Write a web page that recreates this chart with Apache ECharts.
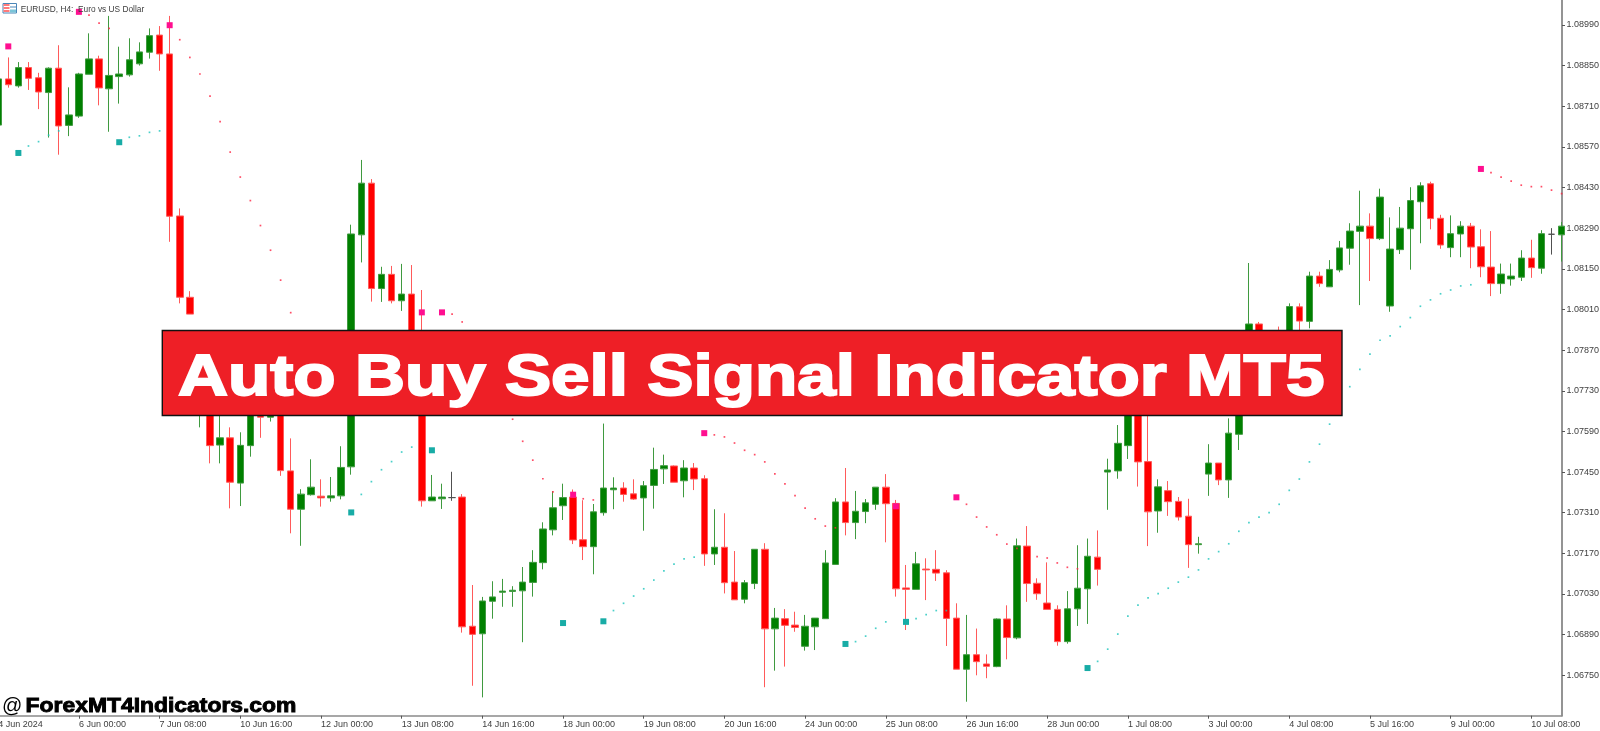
<!DOCTYPE html>
<html><head><meta charset="utf-8">
<style>html,body{margin:0;padding:0;background:#fff;overflow:hidden}#c{width:1600px;height:731px}</style>
<script src="https://cdn.jsdelivr.net/npm/echarts@6/dist/echarts.min.js"></script>
</head><body><div id="c"></div>
<script>
const opens=[1.08645,1.08804,1.08780,1.08843,1.08808,1.08757,1.08841,1.08644,1.08676,1.08820,
1.08873,1.08770,1.08812,1.08818,1.08856,1.08896,1.08955,1.08890,1.08332,1.08052,
1.07698,1.07698,1.07543,1.07568,1.07412,1.07541,1.07681,1.07639,1.07681,1.07454,
1.07322,1.07372,1.07367,1.07361,1.07368,1.07468,1.08267,1.08445,1.08082,1.08131,
1.08040,1.08063,1.07836,1.07351,1.07358,1.07362,1.07364,1.06919,1.06893,1.07005,
1.07036,1.07039,1.07041,1.07070,1.07138,1.07251,1.07334,1.07364,1.07217,1.07193,
1.07310,1.07389,1.07395,1.07375,1.07361,1.07404,1.07461,1.07471,1.07420,1.07464,
1.07427,1.07168,1.07191,1.07071,1.07012,1.07066,1.07184,1.06910,1.06945,1.06923,
1.06850,1.06917,1.06945,1.07132,1.07347,1.07276,1.07314,1.07339,1.07398,1.07342,
1.07051,1.07046,1.07116,1.07115,1.07103,1.06947,1.06771,1.06821,1.06789,1.06780,
1.06944,1.06879,1.07195,1.07067,1.06999,1.06977,1.06866,1.06979,1.07048,1.07157,
1.07450,1.07454,1.07541,1.07700,1.07486,1.07316,1.07386,1.07349,1.07298,1.07200,
1.07443,1.07481,1.07423,1.07580,1.07733,1.07960,1.07853,1.07905,1.07853,1.08019,
1.07969,1.08125,1.08088,1.08146,1.08221,1.08279,1.08297,1.08254,1.08022,1.08216,
1.08288,1.08381,1.08443,1.08324,1.08223,1.08270,1.08297,1.08226,1.08156,1.08099,
1.08115,1.08121,1.08187,1.08152,1.08269,1.08267];
const closes=[1.08804,1.08784,1.08843,1.08806,1.08759,1.08841,1.08642,1.08680,1.08821,1.08873,
1.08773,1.08816,1.08821,1.08870,1.08897,1.08953,1.08890,1.08331,1.08052,1.07994,
1.07870,1.07541,1.07568,1.07415,1.07542,1.07681,1.07639,1.07681,1.07455,1.07322,
1.07374,1.07398,1.07361,1.07368,1.07466,1.08270,1.08445,1.08082,1.08131,1.08040,
1.08063,1.07836,1.07351,1.07364,1.07364,1.07362,1.06917,1.06891,1.07006,1.07020,
1.07040,1.07043,1.07071,1.07139,1.07254,1.07327,1.07362,1.07216,1.07193,1.07313,
1.07395,1.07395,1.07373,1.07357,1.07403,1.07459,1.07472,1.07415,1.07464,1.07426,
1.07168,1.07191,1.07069,1.07010,1.07069,1.07184,1.06910,1.06947,1.06922,1.06915,
1.06919,1.06947,1.07137,1.07347,1.07276,1.07315,1.07344,1.07398,1.07341,1.07048,
1.07046,1.07134,1.07113,1.07102,1.06946,1.06771,1.06821,1.06797,1.06781,1.06944,
1.06880,1.07196,1.07066,1.07031,1.06977,1.06866,1.06979,1.07050,1.07160,1.07115,
1.07457,1.07549,1.07698,1.07485,1.07313,1.07399,1.07348,1.07295,1.07200,1.07203,
1.07481,1.07423,1.07584,1.07733,1.07960,1.07888,1.07922,1.07853,1.08020,1.07970,
1.08125,1.08099,1.08148,1.08222,1.08280,1.08297,1.08254,1.08397,1.08218,1.08290,
1.08385,1.08436,1.08323,1.08232,1.08271,1.08297,1.08225,1.08157,1.08099,1.08132,
1.08125,1.08187,1.08154,1.08271,1.08269,1.08297];
const highs=[1.08804,1.08878,1.08862,1.08862,1.08825,1.08844,1.08920,1.08775,1.08825,1.08961,
1.08884,1.09021,1.08915,1.08944,1.08930,1.08978,1.08986,1.09021,1.08358,1.08073,
1.07922,1.07767,1.07698,1.07604,1.07587,1.07715,1.07715,1.07700,1.07700,1.07566,
1.07391,1.07494,1.07425,1.07433,1.07539,1.08302,1.08525,1.08459,1.08157,1.08160,
1.08167,1.08163,1.08077,1.07440,1.07410,1.07451,1.07374,1.07061,1.07020,1.07074,
1.07082,1.07057,1.07123,1.07181,1.07277,1.07384,1.07410,1.07390,1.07353,1.07340,
1.07617,1.07432,1.07415,1.07425,1.07419,1.07534,1.07510,1.07473,1.07491,1.07481,
1.07439,1.07322,1.07308,1.07178,1.07078,1.07184,1.07205,1.06982,1.06978,1.06969,
1.06958,1.06947,1.07181,1.07360,1.07464,1.07385,1.07357,1.07398,1.07443,1.07354,
1.07130,1.07175,1.07153,1.07181,1.07112,1.06998,1.06958,1.06911,1.06822,1.06946,
1.06991,1.07221,1.07264,1.07084,1.07139,1.06991,1.07040,1.07198,1.07221,1.07249,
1.07496,1.07612,1.07750,1.07750,1.07664,1.07425,1.07419,1.07364,1.07358,1.07227,
1.07546,1.07481,1.07635,1.07767,1.08170,1.07967,1.07932,1.07951,1.08031,1.08031,
1.08140,1.08140,1.08180,1.08246,1.08307,1.08419,1.08341,1.08426,1.08327,1.08363,
1.08431,1.08448,1.08450,1.08336,1.08334,1.08314,1.08308,1.08286,1.08280,1.08168,
1.08168,1.08214,1.08250,1.08283,1.08290,1.08311];
const lows=[1.08645,1.08774,1.08774,1.08766,1.08700,1.08602,1.08543,1.08607,1.08670,1.08820,
1.08713,1.08622,1.08719,1.08812,1.08850,1.08874,1.08832,1.08243,1.08031,1.07994,
1.07604,1.07480,1.07480,1.07325,1.07333,1.07503,1.07568,1.07624,1.07437,1.07239,
1.07196,1.07369,1.07331,1.07348,1.07356,1.07441,1.08172,1.08037,1.08036,1.08031,
1.08005,1.07784,1.07331,1.07351,1.07323,1.07351,1.06897,1.06714,1.06674,1.06945,
1.06986,1.06986,1.06864,1.07021,1.07115,1.07232,1.07285,1.07202,1.07147,1.07098,
1.07300,1.07322,1.07348,1.07354,1.07248,1.07324,1.07409,1.07415,1.07363,1.07388,
1.07127,1.07130,1.07032,1.07010,1.06998,1.07047,1.06709,1.06766,1.06780,1.06900,
1.06835,1.06837,1.06945,1.07132,1.07232,1.07219,1.07274,1.07320,1.07208,1.07021,
1.06906,1.07046,1.07009,1.07075,1.06851,1.06771,1.06659,1.06750,1.06740,1.06778,
1.06805,1.06874,1.07003,1.07010,1.06977,1.06852,1.06859,1.06920,1.06927,1.07059,
1.07320,1.07427,1.07495,1.07400,1.07195,1.07241,1.07299,1.07283,1.07120,1.07169,
1.07368,1.07405,1.07361,1.07526,1.07698,1.07836,1.07819,1.07836,1.07802,1.07939,
1.07945,1.08088,1.08088,1.08138,1.08164,1.08025,1.08108,1.08249,1.08002,1.08201,
1.08147,1.08238,1.08286,1.08219,1.08190,1.08190,1.08152,1.08121,1.08056,1.08064,
1.08092,1.08108,1.08119,1.08133,1.08199,1.08175];

const sellSignalBars=[1,8,17,42,44,57,70,89,95,147];
const sellSignalPrices=[1.08916,1.09035,1.08989,1.08000,1.08000,1.07372,1.07584,1.07332,1.07363,1.08494];
const buySignalBars=[2,12,35,43,56,60,84,90,108];
const buySignalPrices=[1.08549,1.08586,1.07311,1.07525,1.06930,1.06936,1.06858,1.06934,1.06775];

const sellDotBars=[9,10,11,18,19,20,21,22,23,24,25,26,27,28,29,45,46,51,52,53,54,55,58,59,
71,72,73,74,75,76,77,78,79,80,81,82,83,96,97,98,99,100,101,103,104,105,106,107,148,149,150,151,152,153,154,155];
const sellDotPrices=[1.09024,1.08996,1.08978,1.08939,1.08878,1.08821,1.08745,1.08657,1.08552,1.08466,1.08385,1.08299,1.08214,1.08111,1.07999,1.07994,1.07967,1.07632,1.07556,1.07491,1.07427,1.07382,1.07358,1.07354,
1.07578,1.07571,1.07550,1.07525,1.07510,1.07485,1.07444,1.07409,1.07369,1.07326,1.07289,1.07264,1.07258,1.07339,1.07295,1.07261,1.07234,1.07202,1.07187,1.07159,1.07154,1.07137,1.07122,1.07117,1.08481,1.08466,1.08452,1.08438,1.08433,1.08433,1.08421,1.08409];
const buyDotBars=[3,4,5,6,13,14,15,16,36,37,38,39,40,41,61,62,63,64,65,66,67,68,69,85,86,87,88,91,92,93,94,
109,110,111,112,113,114,115,116,117,118,119,120,121,122,123,124,125,126,127,128,129,130,131,132,134,135,136,137,138,139,140,141,142,143,144,145,146];
const buyDotPrices=[1.08573,1.08588,1.08610,1.08625,1.08603,1.08608,1.08620,1.08625,1.07373,1.07417,1.07458,1.07486,1.07519,1.07536,1.06973,1.06998,1.07023,1.07048,1.07078,1.07110,1.07133,1.07151,1.07157,1.06866,1.06885,1.06912,1.06934,1.06945,1.06959,1.06973,1.06973,
1.06798,1.06840,1.06892,1.06954,1.06992,1.07017,1.07031,1.07050,1.07071,1.07088,1.07113,1.07151,1.07176,1.07203,1.07246,1.07276,1.07295,1.07310,1.07339,1.07387,1.07426,1.07485,1.07546,1.07615,1.07744,1.07804,1.07856,1.07904,1.07919,1.07951,1.07982,1.08021,1.08043,1.08064,1.08077,1.08091,1.08095];

const priceTicks=[1.0675,1.0689,1.0703,1.0717,1.0731,1.0745,1.0759,1.0773,1.0787,1.0801,1.0815,1.0829,1.0843,1.0857,1.0871,1.0885,1.0899];
const timeTickBars=[0,8,16,24,32,40,48,56,64,72,80,88,96,104,112,120,128,136,144,152];
const timeTickLabels=['4 Jun 2024','6 Jun 00:00','7 Jun 08:00','10 Jun 16:00','12 Jun 00:00','13 Jun 08:00','14 Jun 16:00','18 Jun 00:00','19 Jun 08:00','20 Jun 16:00','24 Jun 00:00','25 Jun 08:00','26 Jun 16:00','28 Jun 00:00','1 Jul 08:00','3 Jul 00:00','4 Jul 08:00','5 Jul 16:00','9 Jul 00:00','10 Jul 08:00'];

const FONT='"Liberation Sans", Arial, sans-serif';
const candles=opens.map((o,i)=>[i,o,closes[i],lows[i],highs[i]]);
const pts=(xs,ys)=>xs.map((x,i)=>[x,ys[i]]);
const chart=echarts.init(document.getElementById('c'),null,{renderer:'canvas'});
chart.setOption({
  animation:false,
  backgroundColor:'#ffffff',
  grid:{left:-1.8,right:38,top:0,bottom:15.3,containLabel:false,outerBoundsMode:'none'},
  xAxis:{type:'value',min:0,max:155.04,splitLine:{show:false},
    axisLine:{show:true,onZero:false,lineStyle:{color:'#8a8a8a',width:1.5}},
    axisTick:{show:true,length:3,customValues:timeTickBars,lineStyle:{color:'#555'}},
    axisLabel:{show:true,customValues:timeTickBars,align:'left',margin:4,fontFamily:FONT,fontSize:9,color:'#404040',
      hideOverlap:false,formatter:v=>timeTickLabels[timeTickBars.indexOf(v)]}},
  yAxis:{type:'value',position:'right',min:1.066109,max:1.090758,scale:true,splitLine:{show:false},
    axisLine:{show:true,onZero:false,lineStyle:{color:'#707070',width:1.5}},
    axisTick:{show:true,length:3,customValues:priceTicks,lineStyle:{color:'#555'}},
    axisLabel:{show:true,customValues:priceTicks,margin:4.5,fontFamily:FONT,fontSize:9,color:'#404040',
      formatter:v=>v.toFixed(5)}},
  series:[
    {type:'candlestick',data:candles,barWidth:7,clip:true,z:2,
      itemStyle:{color:'#008000',color0:'#ff0000',borderColor:'#3f9a3f',borderColor0:'#ff5a5a',borderColorDoji:'#505050',borderWidth:1}},
    {type:'scatter',data:pts(sellDotBars,sellDotPrices),symbol:'rect',symbolSize:1.7,z:3,itemStyle:{color:'#ff2040'}},
    {type:'scatter',data:pts(buyDotBars,buyDotPrices),symbol:'rect',symbolSize:1.7,z:3,itemStyle:{color:'#1cc4bc'}},
    {type:'scatter',data:pts(sellSignalBars,sellSignalPrices),symbol:'rect',symbolSize:6,z:4,itemStyle:{color:'#ff0f90',opacity:1}},
    {type:'scatter',data:pts(buySignalBars,buySignalPrices),symbol:'rect',symbolSize:6,z:4,itemStyle:{color:'#18aca6',opacity:1}}
  ],
  graphic:[
    {type:'rect',z:100,shape:{x:162.3,y:330.5,width:1179.7,height:85},style:{fill:'#ee1f26',stroke:'#111',lineWidth:1.4}},
    {type:'text',z:101,x:178,y:379.4,scaleX:1.198,style:{text:'Auto Buy Sell Signal Indicator MT5',font:'bold 57.8px "Liberation Sans"',fill:'#fff',stroke:'#fff',lineWidth:1.9,align:'left',verticalAlign:'middle'}},
    {type:'text',z:101,x:2,y:706.3,style:{text:'@',font:'20px "Liberation Sans"',fill:'#000',align:'left',verticalAlign:'middle'}},
    {type:'text',z:101,x:25.6,y:706.3,scaleX:1.144,style:{text:'ForexMT4Indicators.com',font:'bold 20px "Liberation Sans"',fill:'#000',stroke:'#000',lineWidth:0.9,align:'left',verticalAlign:'middle'}},
    {type:'text',z:101,x:20.7,y:9.3,scaleX:0.925,style:{text:'EURUSD, H4:  Euro vs US Dollar',font:'9px "Liberation Sans"',fill:'#404040',align:'left',verticalAlign:'middle'}},
    {type:'rect',z:101,shape:{x:3,y:3.5,width:13.5,height:9.5},style:{fill:'#ffffff',stroke:'#4a86b8',lineWidth:1}},
    {type:'rect',z:102,shape:{x:3.5,y:4,width:6,height:2},style:{fill:'#ff7a7a'}},
    {type:'rect',z:102,shape:{x:3.5,y:7,width:6,height:2},style:{fill:'#ff7a7a'}},
    {type:'rect',z:102,shape:{x:3.5,y:10,width:6,height:2},style:{fill:'#ff7a7a'}},
    {type:'rect',z:102,shape:{x:10,y:6.5,width:6,height:1},style:{fill:'#4a86b8'}},
    {type:'rect',z:102,shape:{x:10,y:9.5,width:6,height:3},style:{fill:'#7ac4d8'}}
  ]
});
</script></body></html>
